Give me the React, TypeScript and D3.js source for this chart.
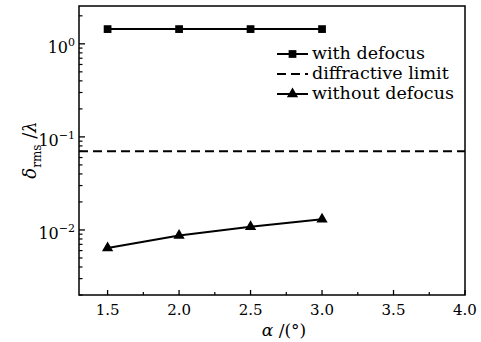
import React, { useEffect, useRef } from "react";
import * as d3 from "d3";

const alphas = [1.5, 2.0, 2.5, 3.0];
const withDefocus = [1.44, 1.44, 1.44, 1.44];
const withoutDefocus = [0.0064, 0.0087, 0.0108, 0.013];
const diffractiveLimit = 0.07;
const xTicks = [1.5, 2.0, 2.5, 3.0, 3.5, 4.0];
const xMinorTicks = [1.75, 2.25, 2.75, 3.25, 3.75];
const yMajorTicks = [1, 0.1, 0.01];
const yExponents = ["0", "\u22121", "\u22122"];
const legendLabels = ["with defocus", "diffractive limit", "without defocus"];

const W = 481, H = 342;
const M = { left: 79, right: 16, top: 6, bottom: 47 };
const FONT = "'DejaVu Serif', serif";

export default function App() {
  const ref = useRef<SVGSVGElement>(null);
  useEffect(() => {
    const svg = d3.select(ref.current);
    svg.selectAll("*").remove();
    const x = d3.scaleLinear().domain([1.3, 4.0]).range([M.left, W - M.right]);
    const y = d3.scaleLog().domain([0.002, 2.55]).range([H - M.bottom, M.top]);
    const x0 = M.left, x1 = W - M.right, y0 = H - M.bottom, y1 = M.top;

    const minors: number[] = [];
    for (const dec of [0.001, 0.01, 0.1, 1]) {
      for (let k = 2; k <= 9; k++) {
        const v = dec * k;
        if (v > 0.002 - 1e-9 && v < 2.55) minors.push(v);
      }
    }
    const g = svg.append("g");
    g.selectAll(".ymin").data(minors).enter().append("line")
      .attr("x1", x0).attr("x2", x0 + 3.5)
      .attr("y1", (d) => y(d)).attr("y2", (d) => y(d))
      .attr("stroke", "#000").attr("stroke-width", 1.2);
    g.selectAll(".ymaj").data(yMajorTicks).enter().append("line")
      .attr("x1", x0).attr("x2", x0 + 6)
      .attr("y1", (d) => y(d)).attr("y2", (d) => y(d))
      .attr("stroke", "#000").attr("stroke-width", 1.3);
    g.selectAll(".xmaj").data(xTicks).enter().append("line")
      .attr("x1", (d) => x(d)).attr("x2", (d) => x(d))
      .attr("y1", y0).attr("y2", y0 - 5)
      .attr("stroke", "#000").attr("stroke-width", 1.3);
    g.selectAll(".xmin").data(xMinorTicks).enter().append("line")
      .attr("x1", (d) => x(d)).attr("x2", (d) => x(d))
      .attr("y1", y0).attr("y2", y0 - 3)
      .attr("stroke", "#000").attr("stroke-width", 1.2);

    g.selectAll(".xl").data(xTicks).enter().append("text")
      .attr("x", (d) => x(d)).attr("y", y0 + 20)
      .attr("text-anchor", "middle").attr("font-family", FONT).attr("font-size", 15)
      .text((d) => d.toFixed(1));

    yMajorTicks.forEach((v, i) => {
      const t = g.append("text").attr("x", x0 - 4).attr("y", y(v) + 9)
        .attr("text-anchor", "end").attr("font-family", FONT).attr("font-size", 16);
      t.append("tspan").text("10");
      t.append("tspan").attr("dy", -7).attr("font-size", 11).text(yExponents[i]);
    });

    const xt = g.append("text").attr("x", 284).attr("y", 336)
      .attr("text-anchor", "middle").attr("font-family", FONT).attr("font-size", 17);
    xt.append("tspan").attr("font-style", "italic").text("\u03b1");
    xt.append("tspan").text(" /(\u00b0)");

    const yt = g.append("text").attr("transform", `translate(36,150) rotate(-90)`)
      .attr("text-anchor", "middle").attr("font-family", FONT).attr("font-size", 18);
    yt.append("tspan").attr("font-style", "italic").text("\u03b4");
    yt.append("tspan").attr("dy", 5).attr("font-size", 12).text("rms");
    yt.append("tspan").attr("dy", -5).text(" /");
    yt.append("tspan").attr("font-style", "italic").text("\u03bb");

    g.append("line").attr("x1", x0).attr("x2", x1)
      .attr("y1", y(diffractiveLimit)).attr("y2", y(diffractiveLimit))
      .attr("stroke", "#000").attr("stroke-width", 2).attr("stroke-dasharray", "9,5");

    const line = d3.line<number>().x((_, i) => x(alphas[i]));
    g.append("path").datum(withDefocus)
      .attr("d", line.y((d) => y(d)) as any)
      .attr("fill", "none").attr("stroke", "#000").attr("stroke-width", 2);
    g.append("path").datum(withoutDefocus)
      .attr("d", line.y((d) => y(d)) as any)
      .attr("fill", "none").attr("stroke", "#000").attr("stroke-width", 2);

    const sq = d3.symbol().type(d3.symbolSquare).size(60);
    const tri = d3.symbol().type(d3.symbolTriangle).size(55);
    g.selectAll(".sq").data(withDefocus).enter().append("path")
      .attr("d", sq as any)
      .attr("transform", (d, i) => `translate(${x(alphas[i])},${y(d)})`)
      .attr("fill", "#000");
    g.selectAll(".tri").data(withoutDefocus).enter().append("path")
      .attr("d", tri as any)
      .attr("transform", (d, i) => `translate(${x(alphas[i])},${y(d)})`)
      .attr("fill", "#000");

    const lx0 = 277, lx1 = 308, ly = [54, 74, 94];
    legendLabels.forEach((lab, i) => {
      if (i === 1) {
        g.append("line").attr("x1", lx0).attr("x2", lx1).attr("y1", ly[i]).attr("y2", ly[i])
          .attr("stroke", "#000").attr("stroke-width", 2).attr("stroke-dasharray", "9,5");
      } else {
        g.append("line").attr("x1", lx0).attr("x2", lx1).attr("y1", ly[i]).attr("y2", ly[i])
          .attr("stroke", "#000").attr("stroke-width", 2);
        g.append("path").attr("d", (i === 0 ? sq : tri) as any)
          .attr("transform", `translate(${(lx0 + lx1) / 2},${ly[i]})`).attr("fill", "#000");
      }
      g.append("text").attr("x", 312).attr("y", ly[i] + 5)
        .attr("font-family", FONT).attr("font-size", 17.5).text(lab);
    });

    g.append("rect").attr("x", x0).attr("y", y1).attr("width", x1 - x0).attr("height", y0 - y1)
      .attr("fill", "none").attr("stroke", "#000").attr("stroke-width", 1.5);
  }, []);
  return (
    <svg ref={ref} width={W} height={H}
      style={{ position: "absolute", left: 0, top: 0, background: "#fff" }} />
  );
}
